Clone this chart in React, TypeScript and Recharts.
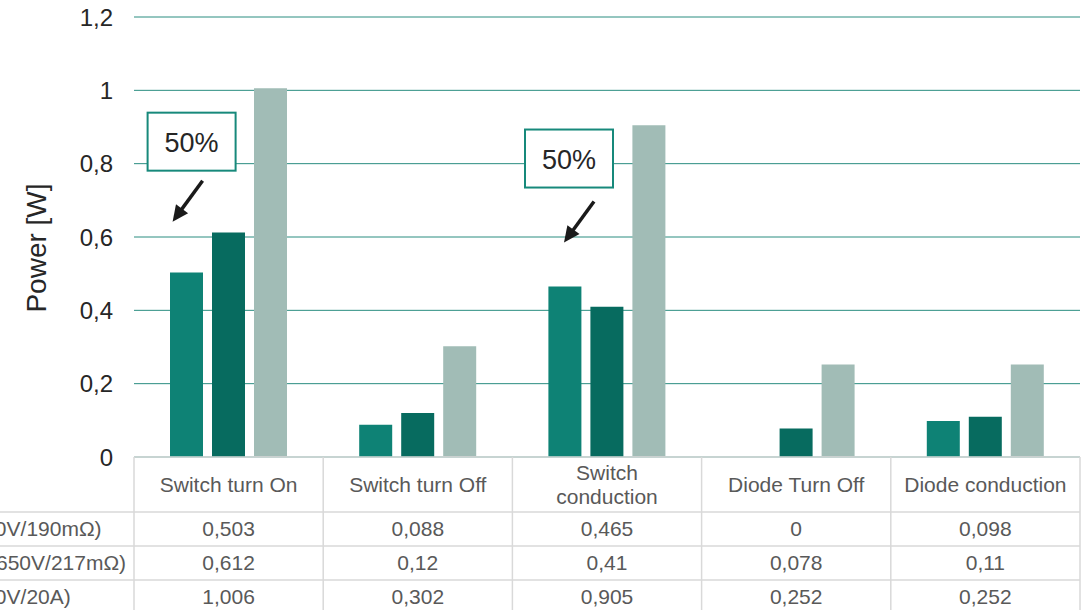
import React from "react";
import { BarChart, Bar, XAxis, YAxis, CartesianGrid, ReferenceDot } from "recharts";

// categories + the three series (values as printed in the table)
const categories = ["Switch turn On", "Switch turn Off", "Switch conduction", "Diode Turn Off", "Diode conduction"];
const seriesNames = ["Si (600V/190mΩ)", "GaN (650V/217mΩ)", "Si (600V/20A)"];
const series1 = [0.503, 0.088, 0.465, 0, 0.098];
const series2 = [0.612, 0.12, 0.41, 0.078, 0.11];
const series3 = [1.006, 0.302, 0.905, 0.252, 0.252];
const yTicks = [0, 0.2, 0.4, 0.6, 0.8, 1, 1.2];

const colors = ["#0e8275", "#076b5f", "#a1bcb6"];
const seriesValues = [series1, series2, series3];
const data = categories.map((name, i) => ({ name, s1: series1[i], s2: series2[i], s3: series3[i] }));

// callouts ("50%") hung on a category / value, arrow relative to box centre
const callouts = [
  { category: "Switch turn On", y: 0.86, label: "50%", dx: -37, arrow: [11, 39, -19, 80] },
  { category: "Switch conduction", y: 0.814, label: "50%", dx: -38, arrow: [25, 43, -5, 84] },
];

const W = 1086, H = 610;
const LEFT = 134, RIGHT = 6, TOP = 17, AXIS_H = 153;
const colW = (W - LEFT - RIGHT) / categories.length;
const FONT = "'Liberation Sans', Arial, sans-serif";
const BORDER = "#d9d9d9";
const TXT = "#595959";

const fmt = (v: number) => String(v).replace(".", ",");

let ctx: CanvasRenderingContext2D | null = null;
function wrap(label: string, maxW: number, font: string) {
  if (!ctx) ctx = document.createElement("canvas").getContext("2d");
  if (!ctx) return [label];
  ctx.font = font;
  const lines: string[] = [];
  let cur = "";
  for (const w of label.split(" ")) {
    const t = cur ? cur + " " + w : w;
    if (cur && ctx.measureText(t).width > maxW) {
      lines.push(cur);
      cur = w;
    } else cur = t;
  }
  lines.push(cur);
  return lines;
}

function TableTick(props: any) {
  const { x, y, payload } = props;
  const i = payload.index;
  const l = x - colW / 2, r = x + colW / 2;
  const rows = [55, 89, 123];
  const lines = wrap(String(payload.value), 168, "21px 'Liberation Sans'");
  const base = y + 35 - ((lines.length - 1) * 24) / 2;
  return (
    <g>
      <line x1={l} y1={y} x2={l} y2={y + 170} stroke={BORDER} strokeWidth={1.5} />
      {i === categories.length - 1 && (
        <line x1={r} y1={y} x2={r} y2={y + 170} stroke={BORDER} strokeWidth={1.5} />
      )}
      {rows.map((dy) => (
        <line key={dy} x1={i === 0 ? 0 : l} y1={y + dy} x2={r} y2={y + dy} stroke={BORDER} strokeWidth={1.5} />
      ))}
      <text textAnchor="middle" fill={TXT} fontSize={21}>
        {lines.map((ln, k) => (
          <tspan key={k} x={x} y={base + k * 24}>{ln}</tspan>
        ))}
      </text>
      {seriesValues.map((vals, k) => (
        <text key={k} x={x} y={y + 79 + k * 34} textAnchor="middle" fill={TXT} fontSize={21}>
          {fmt(vals[i])}
        </text>
      ))}
      {i === 0 && seriesNames.map((n, k) => (
        <text key={n} x={-60} y={y + 79 + k * 34} fill={TXT} fontSize={21}>{n}</text>
      ))}
    </g>
  );
}

function Callout(props: any) {
  const { cx, cy, c } = props;
  if (cx == null || cy == null) return null;
  const bx = cx + c.dx, by = cy;
  const [a1, b1, a2, b2] = c.arrow;
  const x1 = bx + a1, y1 = by + b1, x2 = bx + a2, y2 = by + b2;
  const len = Math.hypot(x2 - x1, y2 - y1);
  const ux = (x2 - x1) / len, uy = (y2 - y1) / len;
  const hl = 16, hw = 7.5;
  const hx = x2 - ux * hl, hy = y2 - uy * hl;
  return (
    <g>
      <rect x={bx - 44} y={by - 29} width={88} height={58} fill="#fff" stroke="#17897b" strokeWidth={2} />
      <text x={bx} y={by + 10} textAnchor="middle" fontSize={27} fill="#262626">{c.label}</text>
      <line x1={x1} y1={y1} x2={hx + ux * 2} y2={hy + uy * 2} stroke="#1a1a1a" strokeWidth={3.5} />
      <polygon
        points={`${x2},${y2} ${hx - uy * hw},${hy + ux * hw} ${hx + uy * hw},${hy - ux * hw}`}
        fill="#1a1a1a"
      />
    </g>
  );
}

function YLabel(props: any) {
  const vb = props.viewBox;
  const cy = vb.y + vb.height / 2 + 11;
  return (
    <text transform={`translate(${vb.x + 46}, ${cy}) rotate(-90)`} textAnchor="middle" fontSize={28} fill="#262626">
      Power [W]
    </text>
  );
}

export default function App() {
  return (
    <div style={{ position: "absolute", left: 0, top: 0, width: W, height: H, background: "#fff", fontFamily: FONT }}>
      <BarChart
        width={W} height={H} data={data} barGap={9}
        margin={{ top: TOP, right: RIGHT, bottom: 0, left: 0 }}
      >
        <CartesianGrid vertical={false} stroke="#2a8d80" />
        <XAxis
          dataKey="name" height={AXIS_H} interval={0} tickLine={false} tickSize={0} tickMargin={0}
          axisLine={{ stroke: BORDER, strokeWidth: 1.5 }} tick={(p: any) => <TableTick {...p} />}
        />
        <YAxis
          width={LEFT} domain={[0, 1.2]} ticks={yTicks} axisLine={false} tickLine={false}
          tickSize={0} tickMargin={21} tickFormatter={fmt}
          tick={{ fontSize: 24, fill: "#262626" }} label={(p: any) => <YLabel {...p} />}
        />
        <Bar dataKey="s1" name={seriesNames[0]} fill={colors[0]} barSize={33} isAnimationActive={false} />
        <Bar dataKey="s2" name={seriesNames[1]} fill={colors[1]} barSize={33} isAnimationActive={false} />
        <Bar dataKey="s3" name={seriesNames[2]} fill={colors[2]} barSize={33} isAnimationActive={false} />
        {callouts.map((c) => (
          <ReferenceDot
            key={c.category} x={c.category} y={c.y} r={0}
            shape={(p: any) => <Callout {...p} c={c} />}
          />
        ))}
      </BarChart>
    </div>
  );
}
